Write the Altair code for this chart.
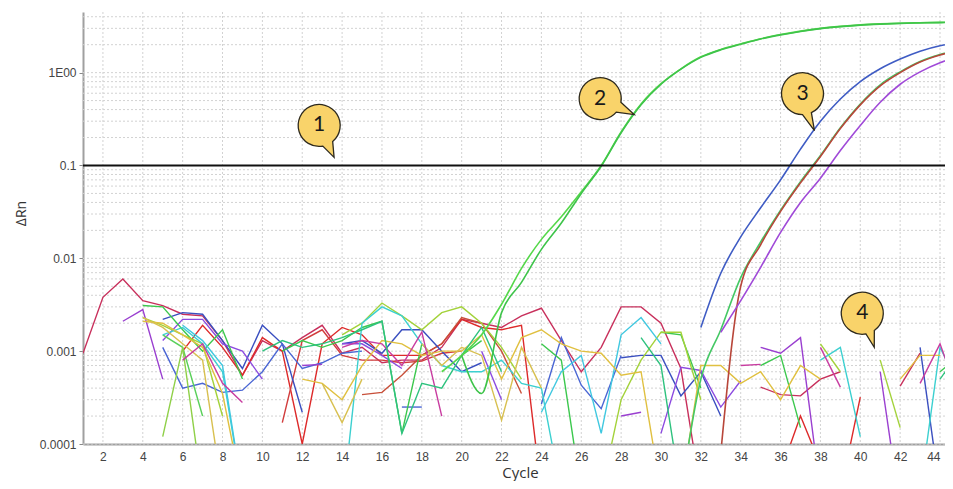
import altair as alt
import pandas as pd

N = None
cycles = list(range(1, 46))

# ---------------- background wells (values in thousandths of ΔRn) ----------------
noise_crimson = [0.95, 3.8, 6.0, 3.5, 3.1, 2.5, 2.4, 1.3, 0.55, 1.3,
                 1.0, 1.4, 1.9, 0.95, 1.1, 0.75, 0.8, 0.8, 1.1, 2.2,
                 2.0, 1.8, 2.4, 2.9, 1.3, 0.6, 1.1, 3.0, 3.0, 2.0,
                 0.65, 0.03, N, N, 0.41, 0.34, 0.33, 0.5, 0.6, N,
                 N, 0.42, 0.95, N, N]
noise_red = [N, N, N, N, N, 1.0, 1.9, 1.1, 0.55, 1.4,
             1.0, 0.1, 1.2, 1.8, 1.5, 0.9, 0.9, 0.9, 1.2, 2.2,
             1.8, 1.7, 1.9, 0.03, N, N, N, N, N, N,
             N, N, N, N, N, 0.05, 0.2, 0.06, 0.03, 0.32,
             N, N, N, N, N]
noise_red2 = [N, N, N, N, N, N, N, N, N, N,
              0.17, 1.3, 1.7, 0.9, 0.8, 0.8, 0.75, 0.78, 0.95, 1.0,
              N, N, N, N, N, N, N, N, N, N,
              N, N, N, N, N, N, N, N, N, N,
              N, N, N, N, N]
noise_brick = [N, N, N, N, N, N, N, N, N, N,
               N, N, N, N, 0.34, 0.36, 0.55, 0.9, 1.2, 2.3,
               2.0, 1.0, 0.35, N, N, N, N, N, N, N,
               N, N, N, N, N, N, N, N, N, N,
               N, N, N, N, N]
noise_darkblue = [N, N, N, N, 2.2, 2.6, 2.5, 1.3, 0.65, 1.9,
                  1.2, 0.22, N, 1.2, 1.3, 0.95, 1.7, 1.7, 1.0, 0.6,
                  0.75, N, N, N, N, N, N, 0.85, 0.9, 0.9,
                  0.33, 0.6, 0.2, N, N, N, N, N, N, N,
                  N, N, 1.1, 0.03, N]
noise_blue = [N, N, N, N, 1.1, 0.4, 0.45, 0.36, 0.38, 0.6,
              1.2, 0.65, 0.75, 0.95, 1.0, N, 0.25, 0.25, N, N,
              N, N, N, 0.27, 1.4, 0.43, 0.24, 0.9, N, N,
              N, N, N, N, N, N, N, N, N, N,
              N, N, N, N, N]
noise_purple = [N, N, 2.1, 2.8, 0.5, N, N, N, N, N,
                N, 0.7, 0.72, N, N, N, N, N, N, N,
                N, N, N, N, N, N, N, 0.2, 0.22, N,
                N, N, N, N, 1.1, 0.95, 1.4, 0.03, N, N,
                0.6, 0.02, N, N, N]
noise_violet = [N, N, N, N, 1.3, 2.2, 2.2, 1.2, 1.0, 0.5,
                N, N, N, 1.2, 1.2, 0.9, 0.65, N, N, N,
                1.0, 0.3, N, N, N, N, N, N, N, 0.13,
                0.67, 0.62, 0.25, 0.48, N, N, N, N, N, N,
                N, N, N, N, N]
noise_green = [N, N, N, 3.1, 3.0, 1.7, 1.0, 1.7, 0.5, N,
               1.0, 1.3, 1.1, 1.3, 1.8, 2.1, 0.13, 1.2, N, 0.9,
               1.3, N, N, 1.2, 0.8, 0.03, N, N, N, 1.6,
               1.5, 0.4, N, N, 0.7, 0.9, 0.15, N, N, N,
               N, N, N, 0.6, 0.9]
noise_green2 = [N, N, N, N, 1.5, 1.1, 0.2, N, N, N,
                N, N, N, N, N, N, N, N, N, N,
                N, N, N, N, N, N, N, N, N, N,
                N, N, N, N, N, N, N, N, N, N,
                N, N, N, N, N]
noise_lime = [N, N, N, 2.3, 1.9, 1.5, 1.2, 0.2, N, N,
              N, N, N, 1.5, 2.0, 3.3, 2.4, 1.7, 2.6, 3.0,
              2.0, 1.1, 0.5, N, N, N, 0.03, 0.3, 0.8, 1.6,
              1.6, 0.3, N, N, N, N, N, 1.2, 0.6, N,
              0.8, 0.15, N, N, N]
noise_yellowgreen = [N, N, N, N, 0.12, 1.1, 0.03, N, N, N,
                     N, N, N, N, N, N, N, N, N, N,
                     N, N, N, N, N, N, N, N, N, N,
                     N, N, N, N, N, N, N, N, N, N,
                     N, N, N, N, N]
noise_cyan = [N, N, N, N, 1.5, 1.8, 1.2, 0.6, 0.03, N,
              N, N, N, 0.02, 2.0, 3.0, 2.4, 1.2, 0.7, 0.6,
              0.6, 0.8, 0.45, 0.4, 0.03, N, N, N, N, N,
              N, N, N, N, N, N, N, 0.8, 1.1, 0.12,
              N, N, 0.03, 1.1, 0.4]
noise_cyan2 = [N, N, N, N, N, 1.9, 1.3, 0.7, 0.03, N,
               N, N, N, N, N, N, N, N, N, N,
               N, N, N, 0.22, 0.6, 0.9, 0.13, 1.5, 2.3, 1.2,
               N, N, N, N, N, N, N, N, N, N,
               N, N, N, N, N]
noise_gold = [N, N, N, 2.1, 2.0, 1.5, 1.1, 0.35, 0.03, N,
              N, 0.5, 0.45, 0.3, 0.7, 1.3, 1.2, 0.9, 1.0, 1.0,
              1.5, 0.5, 1.4, 1.7, 1.2, 1.0, 0.95, 0.55, 0.6, 0.03,
              0.03, 0.7, 0.7, 0.45, 0.6, 0.3, 0.7, 0.5, N, N,
              N, 0.5, 0.9, 0.9, N]
noise_gold2 = [N, N, N, 2.3, 1.8, 1.2, 0.8, 0.03, N, N,
               N, N, 0.45, 0.17, 0.5, N, N, 1.2, 0.7, 1.1,
               0.9, 0.18, 1.1, 0.4, N, N, N, N, N, N,
               N, N, N, N, N, N, N, N, N, N,
               N, N, N, N, N]
noise_magenta = [N, N, N, N, N, 0.8, 1.2, 0.45, 0.28, N,
                 N, N, N, 1.1, 1.3, 1.2, 0.7, 1.6, 0.2, N,
                 N, N, N, N, N, N, N, N, N, N,
                 N, N, N, 0.7, 0.72, N, N, 1.1, 0.41, N,
                 N, N, 0.45, 1.2, 0.3]
noise_teal = [N, N, N, N, N, N, N, N, N, 1.0,
              1.3, 1.1, 1.2, 1.4, 1.7, 2.1, 0.13, 0.45, 0.4, 0.9,
              1.8, 0.6, N, N, N, N, N, N, 1.4, 0.7,
              0.03, N, N, N, N, N, N, N, N, N,
              N, N, N, 0.5, 1.0]

noise_series = [
    ("crimson", "#c8305c", noise_crimson),
    ("red", "#dd2a2a", noise_red),
    ("red2", "#d23c3c", noise_red2),
    ("brick", "#c8503a", noise_brick),
    ("darkblue", "#3a4fc0", noise_darkblue),
    ("blue", "#4a66d4", noise_blue),
    ("purple", "#9a3fd0", noise_purple),
    ("violet", "#8c4ae0", noise_violet),
    ("green", "#3cc84e", noise_green),
    ("green2", "#5ad05a", noise_green2),
    ("lime", "#a3d23a", noise_lime),
    ("yellowgreen", "#8fd048", noise_yellowgreen),
    ("cyan", "#3cd0d0", noise_cyan),
    ("cyan2", "#40c8e0", noise_cyan2),
    ("gold", "#e0c040", noise_gold),
    ("gold2", "#d8c050", noise_gold2),
    ("magenta", "#c83ca0", noise_magenta),
    ("teal", "#2ec27e", noise_teal),
]

# ---------------- amplifying wells (ΔRn) ----------------
amp_green_a = [N, N, N, N, N, N, N, N, N, N,
               N, N, N, N, N, N, N, N, 0.0006, 0.0009,
               0.0015, 0.0032, 0.0078, 0.016, 0.028, 0.052, 0.1, 0.23, 0.46, 0.76,
               1.1, 1.48, 1.78, 2.04, 2.32, 2.57, 2.8, 3.0, 3.15, 3.27,
               3.35, 3.41, 3.45, 3.48, 3.5]
amp_green_b = [N, N, N, N, N, N, N, N, N, 0.0009,
               N, N, N, N, N, N, N, N, N, 0.0009,
               0.00035, 0.0026, 0.0055, 0.0125, 0.024, 0.05, 0.098, 0.225, 0.45, 0.75,
               1.09, 1.46, 1.76, 2.02, 2.3, 2.55, 2.78, 2.98, 3.13, 3.25,
               3.33, 3.39, 3.43, 3.46, 3.48]
amp_green_b[9] = N
amp_blue = [N, N, N, N, N, N, N, N, N, N,
            N, N, N, N, N, N, N, N, N, N,
            N, N, N, N, N, N, N, N, N, N,
            N, 0.0018, 0.0069, 0.017, 0.035, 0.07, 0.15, 0.3, 0.52, 0.8,
            1.1, 1.4, 1.7, 1.95, 2.1]
amp_red = [N, N, N, N, N, N, N, N, N, N,
           N, N, N, N, N, N, N, N, N, N,
           N, N, N, N, N, N, N, N, N, N,
           N, N, 0.00008, 0.005, 0.014, 0.032, 0.065, 0.125, 0.25, 0.45,
           0.72, 1.0, 1.3, 1.55, 1.75]
amp_green_c = [N, N, N, N, N, N, N, N, N, N,
               N, N, N, N, N, N, N, N, N, N,
               N, N, N, N, N, N, N, N, N, N,
               0.00003, 0.0005, 0.0017, 0.0062, 0.015, 0.033, 0.067, 0.128, 0.255, 0.46,
               0.74, 1.02, 1.32, 1.57, 1.77]
amp_purple = [N, N, N, N, N, N, N, N, N, N,
              N, N, N, N, N, N, N, N, N, N,
              N, N, N, N, N, N, N, N, N, N,
              N, N, 0.0016, 0.0035, 0.008, 0.019, 0.04, 0.073, 0.145, 0.27,
              0.48, 0.75, 1.02, 1.28, 1.5]

amp_series = [
    ("ampA", "#55d84a", amp_green_a),
    ("ampB", "#3ec44a", amp_green_b),
    ("ampBlue", "#3f5cc4", amp_blue),
    ("ampGreen", "#44c864", amp_green_c),
    ("ampRed", "#b8463a", amp_red),
    ("ampPurple", "#a04ad8", amp_purple),
]

threshold = [0.1]

x_ticks = [2, 4, 6, 8, 10, 12, 14, 16, 18, 20, 22, 24, 26, 28, 30, 32, 34, 36, 38, 40, 42, 44]
y_ticks = [0.0001, 0.001, 0.01, 0.1, 1]
y_minor = [k * 10.0 ** e for e in range(-4, 1) for k in range(1, 10) if k * 10.0 ** e <= 4.5]

bubble_cycle = [12.85, 26.95, 37.1, 40.1]
bubble_value = [0.27, 0.525, 0.594, 0.00256]
bubble_label = ["1", "2", "3", "4"]
bubble_paths = [
    "M 0.174 0.985 A 1 1 0 1 1 0.643 0.766 L 0.71 1.52 Z",
    "M 0.766 0.643 A 1 1 0 1 1 0.985 0.174 L 1.62 0.76 Z",
    "M 0 1 A 1 1 0 1 1 0.423 0.906 L 0.57 1.76 Z",
    "M 0.174 0.985 A 1 1 0 1 1 0.574 0.819 L 0.57 1.62 Z",
]

# ---------------- build tables ----------------
def build(series_list, unit):
    rows = []
    for name, color, vals in series_list:
        seg = 0
        for c, v in zip(cycles, vals):
            if v is None:
                seg += 1
                continue
            rows.append({"series": name, "seg": f"{name}_{seg}", "cycle": c,
                         "value": v * unit, "color": color})
    return pd.DataFrame(rows)

noise_df = build(noise_series, 0.001)
amp_df = build(amp_series, 1.0)

x_scale = alt.Scale(domain=[1, 44.25], nice=False, zero=False)
y_scale = alt.Scale(type="log", domain=[0.0001, 4.5], nice=False)

x_axis = alt.Axis(values=x_ticks, grid=False, ticks=False, tickSize=0, labelPadding=7,
                  domainColor="#a0a0a0", domainWidth=2, labelFont="Liberation Sans",
                  labelFontSize=12, labelColor="#444444", labelOverlap=False,
                  labelFlush=8,
                  title="Cycle", titleFont="Open Sans", titleFontSize=15,
                  titleFontWeight="normal", titleColor="#333333", titleX=437, titleY=28,
                  titleAlign="center", titleBaseline="middle")
y_axis = alt.Axis(values=y_ticks, grid=False, tickSize=4, tickColor="#888888",
                  labelPadding=3, domainColor="#a0a0a0", domainWidth=2,
                  labelFont="Liberation Sans", labelFontSize=12, labelColor="#444444",
                  labelExpr="datum.value >= 1 ? '1E00' : toString(datum.value)",
                  title="ΔRn", titleFont="Open Sans", titleFontSize=14,
                  titleFontWeight="normal", titleColor="#333333", titleX=-55, titleY=201)

X = alt.X("cycle:Q", scale=x_scale, axis=x_axis)
Y = alt.Y("value:Q", scale=y_scale, axis=y_axis)

grid_v = alt.Chart(pd.DataFrame({"cycle": x_ticks})).mark_rule(
    color="#d2d2d2", strokeDash=[2, 2], strokeWidth=1).encode(x=X)
grid_h = alt.Chart(pd.DataFrame({"value": y_minor})).mark_rule(
    color="#d2d2d2", strokeDash=[2, 2], strokeWidth=1).encode(y=Y)

noise = alt.Chart(noise_df).mark_line(clip=True, strokeWidth=1.4).encode(
    x=X, y=Y, color=alt.Color("color:N", scale=None), detail="seg:N",
    order="cycle:Q")
amp = alt.Chart(amp_df).mark_line(clip=True, strokeWidth=1.6, interpolate="monotone").encode(
    x=X, y=Y, color=alt.Color("color:N", scale=None), detail="seg:N",
    order="cycle:Q")
thr = alt.Chart(pd.DataFrame({"value": threshold})).mark_rule(
    color="#111111", strokeWidth=2).encode(y=Y)

bubble_df = pd.DataFrame({"cycle": bubble_cycle, "value": bubble_value, "label": bubble_label})
bubbles = []
for i, path in enumerate(bubble_paths):
    bubbles.append(
        alt.Chart(bubble_df.iloc[[i]]).mark_point(
            shape=path, size=1764, filled=True, fill="#f9d36a", stroke="#2e2a1e",
            strokeWidth=1.3, opacity=1).encode(x=X, y=Y)
    )
labels = alt.Chart(bubble_df).mark_text(
    font="Lato", fontSize=21, color="#1a1a1a", baseline="middle", align="center"
).encode(x=X, y=Y, text="label:N")

chart = alt.layer(grid_v, grid_h, noise, amp, thr, *bubbles, labels).properties(
    width=862, height=432,
    autosize=alt.AutoSizeParams(type="none"),
    padding={"left": 75, "top": 4, "right": 0, "bottom": 37},
).configure_view(strokeWidth=0)

chart.save("out.html", embed_options={"renderer": "svg", "actions": False})
